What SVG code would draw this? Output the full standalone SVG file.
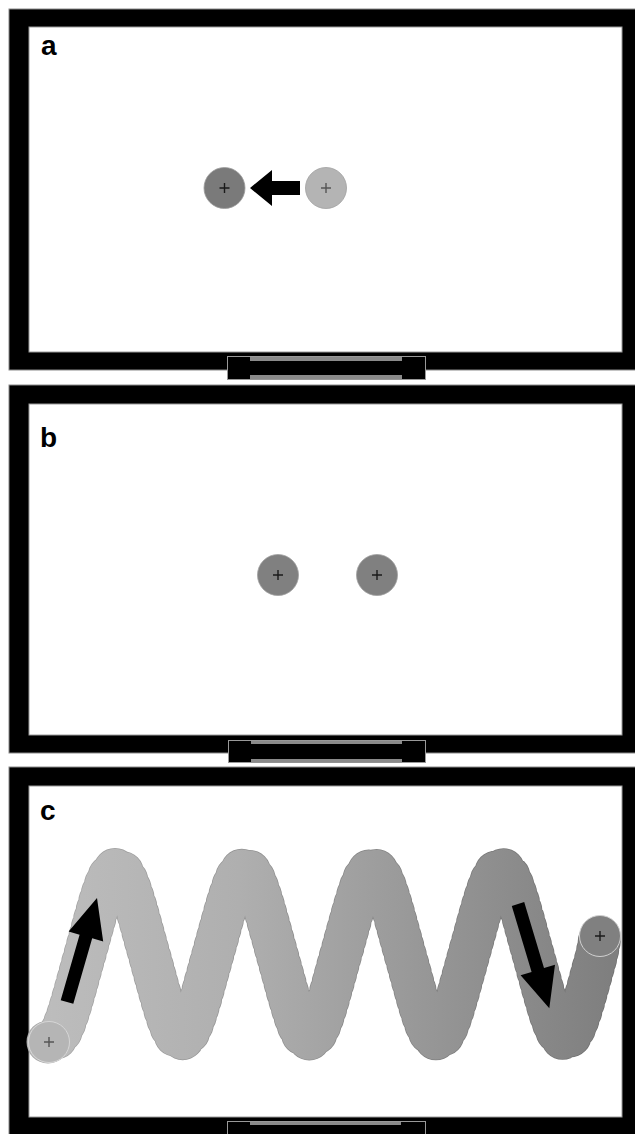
<svg xmlns="http://www.w3.org/2000/svg" width="635" height="1134" viewBox="0 0 635 1134">
<style>
.frame{fill:#000;stroke:#8a8a8a;stroke-width:1}
.screen{fill:#fff;stroke:#9a9a9a;stroke-width:1}
.barbox{fill:#000;stroke:#999;stroke-width:1}
.band{fill:#8a8a8a}
.lbl{font-family:"Liberation Sans",Arial,sans-serif;font-weight:bold;font-size:28px;fill:#000}
.plus{stroke:#1a1a1a;stroke-width:1.4;fill:none}
.plusl{stroke:#555;stroke-width:1.4;fill:none}
.arrow{fill:#000}
.trail{fill:none;stroke-linecap:round;stroke-dasharray:0 9}
</style>
<defs>
<linearGradient id="wave" gradientUnits="userSpaceOnUse" x1="40" y1="0" x2="610" y2="0">
<stop offset="0" stop-color="#bdbdbd"/>
<stop offset="0.35" stop-color="#afafaf"/>
<stop offset="1" stop-color="#7f7f7f"/>
</linearGradient>
<linearGradient id="waveEdge" gradientUnits="userSpaceOnUse" x1="40" y1="0" x2="610" y2="0">
<stop offset="0" stop-color="#a6a6a6"/>
<stop offset="1" stop-color="#6e6e6e"/>
</linearGradient>
<path id="wpath" d="M48,1042 L53,1039 c10,0 18,-35 32,-85 c14,-50 22,-85 32,-85 c10,0 18,35 32,85 c14,50 22,85 32,85 c10,0 18,-35 32,-85 c14,-50 22,-85 32,-85 c10,0 18,35 32,85 c14,50 22,85 32,85 c10,0 18,-35 32,-85 c14,-50 22,-85 32,-85 c10,0 18,35 32,85 c14,50 22,85 32,85 c10,0 18,-35 32,-85 c14,-50 22,-85 32,-85 c10,0 18,35 32,85 c14,50 22,85 32,85 c10,0 18,-35 32,-85 L600,937"/>
</defs>

<g id="panel-a">
<rect class="frame" x="9" y="9" width="640" height="361"/>
<rect class="screen" x="29" y="27" width="593" height="325"/>
<g id="bar-a">
<rect class="barbox" x="227.5" y="356.5" width="198" height="23"/>
<rect class="band" x="250" y="357" width="152" height="4"/>
<rect class="band" x="250" y="375" width="152" height="4"/>
</g>
<text class="lbl" x="41" y="55">a</text>
<g id="a-dark">
<circle cx="224.5" cy="188" r="20.5" fill="#7a7a7a" stroke="#9a9a9a" stroke-width="0.8"/>
<path class="plus" d="M219.5,188h10M224.5,183v10"/>
</g>
<g id="a-light">
<circle cx="326" cy="188" r="20.5" fill="#b4b4b4" stroke="#a0a0a0" stroke-width="0.8"/>
<path class="plusl" d="M321,188h10M326,183v10"/>
</g>
</g>

<g id="panel-b">
<rect class="frame" x="9" y="385" width="640" height="368"/>
<rect class="screen" x="29" y="404" width="593" height="331"/>
<g id="bar-b">
<rect class="barbox" x="228.5" y="740.5" width="197" height="22"/>
<rect class="band" x="251" y="741" width="151" height="3"/>
<rect class="band" x="251" y="759" width="151" height="3.5"/>
</g>
<text class="lbl" x="40" y="447">b</text>
<g id="b-left">
<circle cx="278" cy="575" r="20.5" fill="#808080" stroke="#a0a0a0" stroke-width="0.8"/>
<path class="plus" d="M273,575h10M278,570v10"/>
</g>
<g id="b-right">
<circle cx="377" cy="575" r="20.5" fill="#808080" stroke="#a0a0a0" stroke-width="0.8"/>
<path class="plus" d="M372,575h10M377,570v10"/>
</g>
</g>

<g id="panel-c">
<rect class="frame" x="9" y="767" width="640" height="380"/>
<rect class="screen" x="29" y="786" width="593" height="331"/>
<g id="bar-c">
<rect class="barbox" x="227.5" y="1121.5" width="198" height="20"/>
<rect class="band" x="250" y="1122" width="151" height="3"/>
</g>
<text class="lbl" x="40" y="820">c</text>
<g id="trail">
<use href="#wpath" class="trail" stroke="url(#waveEdge)" stroke-width="43"/>
<use href="#wpath" class="trail" stroke="url(#wave)" stroke-width="41.5"/>
</g>
<g id="c-start">
<circle cx="49" cy="1042" r="20.5" fill="#b5b5b5" stroke="#d6d6d6" stroke-width="1"/>
<path class="plusl" d="M44,1042h10M49,1037v10"/>
</g>
<g id="c-end">
<circle cx="600" cy="936" r="20.5" fill="#808080" stroke="#d0d0d0" stroke-width="1"/>
<path class="plus" d="M595,936h10M600,931v10"/>
</g>
</g>

<g id="connectors">
<polygon class="arrow" points="250,188 272,170 272,181 300,181 300,195 272,195 272,206"/>
<polygon class="arrow" points="97,898 103.2,941.5 92.2,938.3 73.3,1003.8 60.7,1000.2 79.6,934.7 68.6,931.5"/>
<polygon class="arrow" points="549.3,1008.3 520.6,975.2 531.6,971.9 511.8,905.9 524.2,902.1 544,968.1 555,964.8"/>
</g>
</svg>
